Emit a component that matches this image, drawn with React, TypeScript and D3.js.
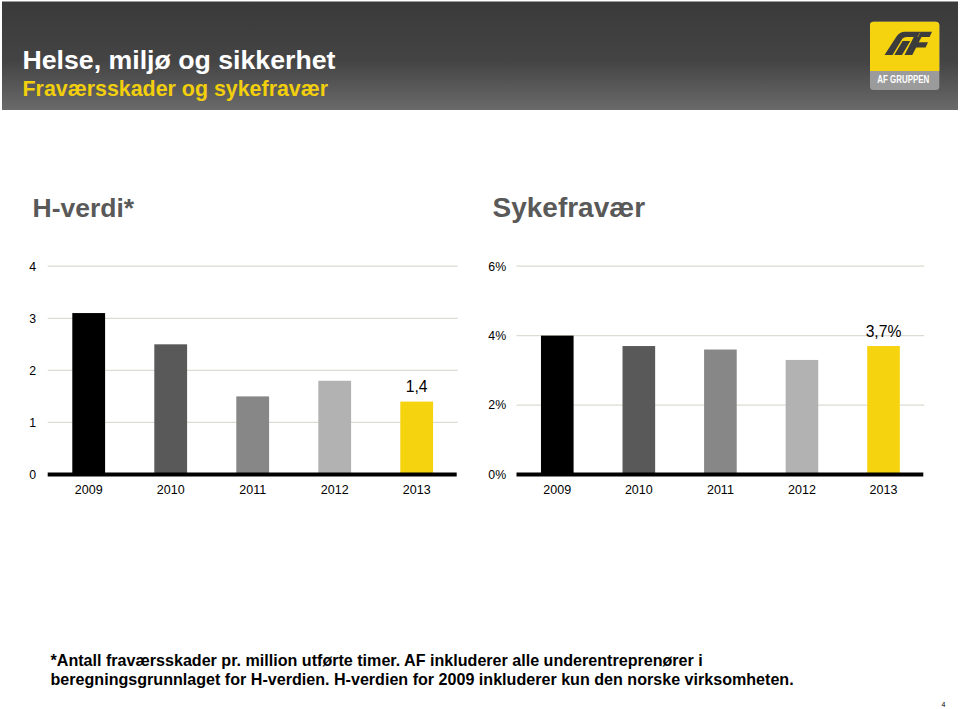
import React from "react";
import * as d3 from "d3";

const years = ["2009", "2010", "2011", "2012", "2013"];
const hValues = [3.1, 2.5, 1.5, 1.8, 1.4];
const sickValues = [4.0, 3.7, 3.6, 3.3, 3.7];
const barColors = ["#000000", "#595959", "#878787", "#b2b2b2", "#f6d30f"];
const hTicks = [0, 1, 2, 3, 4];
const sickTicks = [0, 2, 4, 6];
const hLastLabel = "1,4";
const sickLastLabel = "3,7%";

const FONT = "'Liberation Sans', Arial, Helvetica, sans-serif";

type PanelProps = {
  title: string;
  titleX: number;
  titleSize: number;
  values: number[];
  ticks: number[];
  max: number;
  x0: number;
  x1: number;
  labelX: number;
  tickFmt: (v: number) => string;
  lastLabel: string;
};

function Panel(p: PanelProps) {
  const y = d3.scaleLinear().domain([0, p.max]).range([474.5, 266.2]);
  const x = d3.scaleBand<string>().domain(years).range([p.x0, p.x1]).paddingInner(0.6).paddingOuter(0.3);
  const last = years.length - 1;
  return (
    <g>
      <text x={p.titleX} y={217} fontFamily={FONT} fontWeight="bold" fontSize={p.titleSize} fill="#595959">
        {p.title}
      </text>
      {p.ticks.map((t) => (
        <g key={t}>
          {t !== 0 && (
            <line x1={p.x0} x2={p.x1} y1={y(t)} y2={y(t)} stroke="#dcdcd2" strokeWidth={1.2} />
          )}
          <text x={p.labelX} y={y(t) + 4.3} fontFamily={FONT} fontSize={12.3} fill="#000">
            {p.tickFmt(t)}
          </text>
        </g>
      ))}
      {p.values.map((v, i) => (
        <rect
          key={years[i]}
          x={x(years[i])}
          y={y(v)}
          width={x.bandwidth()}
          height={y(0) - y(v)}
          fill={barColors[i]}
        />
      ))}
      <line x1={p.x0} x2={p.x1 - 1} y1={y(0)} y2={y(0)} stroke="#000" strokeWidth={4} />
      {years.map((yr) => (
        <text
          key={yr}
          x={(x(yr) as number) + x.bandwidth() / 2}
          y={494}
          textAnchor="middle"
          fontFamily={FONT}
          fontSize={12.5}
          fill="#000"
        >
          {yr}
        </text>
      ))}
      <text
        x={(x(years[last]) as number) + x.bandwidth() / 2}
        y={y(p.values[last]) - 9.5}
        textAnchor="middle"
        fontFamily={FONT}
        fontSize={15.7}
        fill="#000"
      >
        {p.lastLabel}
      </text>
    </g>
  );
}

export default function App() {
  return (
    <svg
      width={960}
      height={709}
      viewBox="0 0 960 709"
      style={{ position: "absolute", left: 0, top: 0, background: "#fff" }}
    >
      <defs>
        <linearGradient id="hdr" x1="0" y1="0" x2="0" y2="1">
          <stop offset="0" stopColor="#3a3a3a" />
          <stop offset="0.55" stopColor="#444444" />
          <stop offset="1" stopColor="#6a6a6a" />
        </linearGradient>
      </defs>
      <rect x={0} y={0} width={960} height={709} fill="#fff" />
      <rect x={2} y={1.5} width={956} height={108.5} fill="url(#hdr)" />
      <text x={22.5} y={69} fontFamily={FONT} fontWeight="bold" fontSize={26.7} fill="#ffffff">
        Helse, miljø og sikkerhet
      </text>
      <text x={22.5} y={96} fontFamily={FONT} fontWeight="bold" fontSize={21.4} fill="#f2cf0c">
        Fraværsskader og sykefravær
      </text>

      {/* logo */}
      <g>
        <rect x={870} y={21.7} width={69.3} height={68.3} rx={3.5} fill="#9b9b9b" />
        <path d="M873.5,21.7 H935.8 Q939.3,21.7 939.3,25.2 V71 H870 V25.2 Q870,21.7 873.5,21.7 Z" fill="#f6d30f" />
        <path d="M884.5,55 L892.5,55 L902.5,38.5 Q904,37 906.5,37 L917.5,37 L920.3,31.7 L905,31.7 Q899.5,31.7 896.5,36.5 Z" fill="#3c3c3c" />
        <path d="M894.3,55 L902,55 L910.3,41 L902.6,41 Z" fill="#3c3c3c" />
        <path d="M904.5,55 L912.3,55 L921.5,37 L913.8,37 Z" fill="#3c3c3c" />
        <path d="M920.5,31.7 L932,31.7 L929.6,37 L918,37 Z" fill="#3c3c3c" />
        <path d="M915.8,42.3 L928,42.3 L925.6,47.5 L913.4,47.5 Z" fill="#3c3c3c" />
        <text
          x={877.3}
          y={82.7}
          fontFamily={FONT}
          fontWeight="bold"
          fontSize={10}
          fill="#ffffff"
          textLength={52}
          lengthAdjust="spacingAndGlyphs"
        >
          AF GRUPPEN
        </text>
      </g>

      <Panel
        title="H-verdi*"
        titleX={32.5}
        titleSize={26.5}
        values={hValues}
        ticks={hTicks}
        max={4}
        x0={47.7}
        x1={457.7}
        labelX={29.3}
        tickFmt={(v) => String(v)}
        lastLabel={hLastLabel}
      />
      <Panel
        title="Sykefravær"
        titleX={492.5}
        titleSize={28}
        values={sickValues}
        ticks={sickTicks}
        max={6}
        x0={516.5}
        x1={924.3}
        labelX={488.3}
        tickFmt={(v) => `${v}%`}
        lastLabel={sickLastLabel}
      />

      <text x={50.5} y={666} fontFamily={FONT} fontWeight="bold" fontSize={16.1} fill="#000">
        *Antall fraværsskader pr. million utførte timer. AF inkluderer alle underentreprenører i
      </text>
      <text x={50.5} y={684.5} fontFamily={FONT} fontWeight="bold" fontSize={16.1} fill="#000">
        beregningsgrunnlaget for H-verdien. H-verdien for 2009 inkluderer kun den norske virksomheten.
      </text>
      <text x={941.5} y={707} fontFamily={FONT} fontSize={7} fill="#000">
        4
      </text>
    </svg>
  );
}
